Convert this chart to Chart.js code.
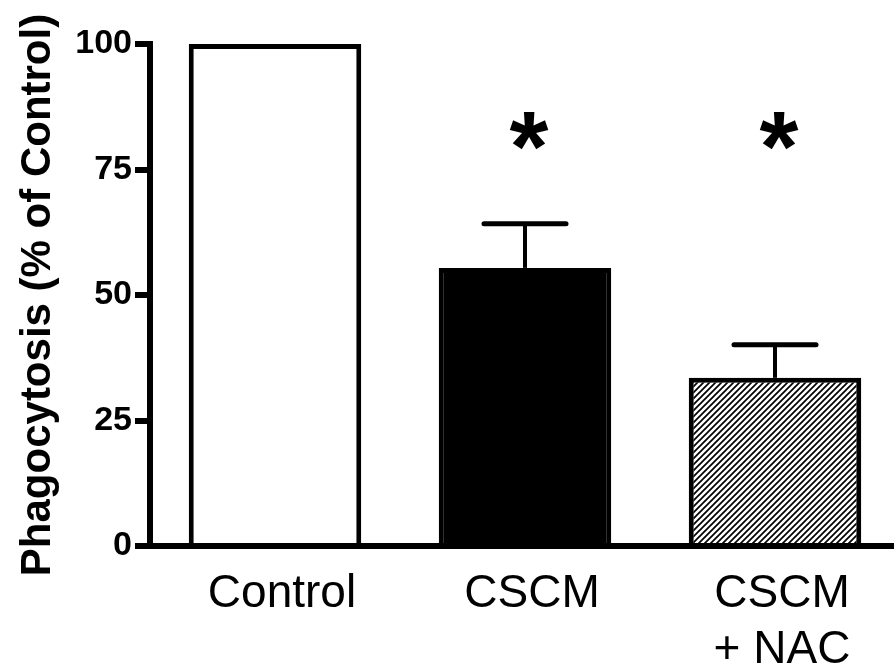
<!DOCTYPE html>
<html><head><meta charset="utf-8">
<script src="https://cdn.jsdelivr.net/npm/chart.js@4.4.1/dist/chart.umd.min.js"></script>
<style>
html,body{margin:0;padding:0;background:#fff;overflow:hidden;width:894px;height:668px}
#wrap{width:900px;height:668px}
</style></head>
<body><div id="wrap"><canvas id="c" width="900" height="668"></canvas></div>
<script>
// ---- data ----
const categories = ['Control', 'CSCM', ['CSCM', '+ NAC']];
const means = [100, 55.4, 33.5];
const sem = [0, 8.8, 6.6];
const significance = ['', '*', '*'];
const yTicks = [0, 25, 50, 75, 100];
const yTitle = 'Phagocytosis (% of Control)';
const starLevel = 82.7;

// ---- styles ----
const FAMILY = '"Liberation Sans", Arial, Helvetica, sans-serif';
const canvas = document.getElementById('c');
const ctx0 = canvas.getContext('2d');

function makeHatch() {
  const p = document.createElement('canvas');
  p.width = 6; p.height = 6;
  const g = p.getContext('2d');
  g.fillStyle = '#fff'; g.fillRect(0, 0, 6, 6);
  g.strokeStyle = '#000'; g.lineWidth = 1.7;
  g.beginPath();
  g.moveTo(-1, 7); g.lineTo(7, -1);
  g.moveTo(-1, 1); g.lineTo(1, -1);
  g.moveTo(5, 7); g.lineTo(7, 5);
  g.stroke();
  return ctx0.createPattern(p, 'repeat');
}
const fills = ['#ffffff', '#000000', makeHatch()];

const annotate = {
  id: 'annotate',
  afterDatasetsDraw(chart) {
    const ctx = chart.ctx;
    const meta = chart.getDatasetMeta(0);
    const ys = chart.scales.y;
    ctx.save();
    ctx.strokeStyle = '#000';
    ctx.fillStyle = '#000';
    meta.data.forEach((bar, i) => {
      if (sem[i] > 0) {
        const base = ys.getPixelForValue(means[i]);
        const top = ys.getPixelForValue(means[i] + sem[i]);
        ctx.lineWidth = 4; ctx.lineCap = 'butt';
        ctx.beginPath(); ctx.moveTo(bar.x, base); ctx.lineTo(bar.x, top); ctx.stroke();
        ctx.lineWidth = 5; ctx.lineCap = 'round';
        ctx.beginPath(); ctx.moveTo(bar.x - 41, top); ctx.lineTo(bar.x + 41, top); ctx.stroke();
      }
      if (significance[i]) {
        ctx.font = 'bold 100px ' + FAMILY;
        let m = ctx.measureText(significance[i]);
        const size = 100 * 38 / (m.actualBoundingBoxAscent + m.actualBoundingBoxDescent);
        ctx.font = 'bold ' + size.toFixed(1) + 'px ' + FAMILY;
        m = ctx.measureText(significance[i]);
        const cy = ys.getPixelForValue(starLevel);
        const cx = bar.x + 4;
        ctx.textAlign = 'left'; ctx.textBaseline = 'alphabetic';
        const by = cy + (m.actualBoundingBoxAscent - m.actualBoundingBoxDescent) / 2;
        const bx = cx - (m.actualBoundingBoxRight - m.actualBoundingBoxLeft) / 2;
        ctx.fillText(significance[i], bx, by);
      }
    });
    ctx.restore();
  }
};

new Chart(canvas, {
  type: 'bar',
  data: {
    labels: categories,
    datasets: [{
      data: means,
      backgroundColor: fills,
      borderColor: '#000',
      borderWidth: 5,
      borderSkipped: 'start',
      barPercentage: 0.69,
      categoryPercentage: 1
    }]
  },
  options: {
    responsive: false,
    animation: false,
    devicePixelRatio: 1,
    layout: { padding: { top: 44, left: 0, right: 0, bottom: 0 } },
    plugins: { legend: { display: false }, tooltip: { enabled: false } },
    scales: {
      x: {
        z: 1,
        afterFit: s => { s.height = 122; },
        grid: { display: false, drawTicks: false },
        border: { display: true, color: '#000', width: 6 },
        ticks: {
          color: '#000',
          font: { family: FAMILY, size: 46, lineHeight: 1.22 },
          padding: 20,
          labelOffset: 7,
          maxRotation: 0,
          autoSkip: false
        }
      },
      y: {
        min: 0, max: 100,
        afterBuildTicks: s => { s.ticks = yTicks.map(v => ({ value: v })); },
        afterFit: s => { s.width = 150; },
        grid: {
          display: true, drawOnChartArea: false, drawTicks: true,
          tickLength: 15, tickWidth: 6, tickColor: '#000', color: '#000', lineWidth: 6
        },
        border: { display: true, color: '#000', width: 6 },
        ticks: {
          color: '#000',
          font: { family: FAMILY, size: 34, weight: 'bold' },
          padding: 3
        },
        title: {
          display: true, text: yTitle, color: '#000',
          font: { family: FAMILY, size: 42, weight: 'bold' },
          padding: { top: 13, bottom: 0 }
        }
      }
    }
  },
  plugins: [annotate]
});
</script>
</body></html>
